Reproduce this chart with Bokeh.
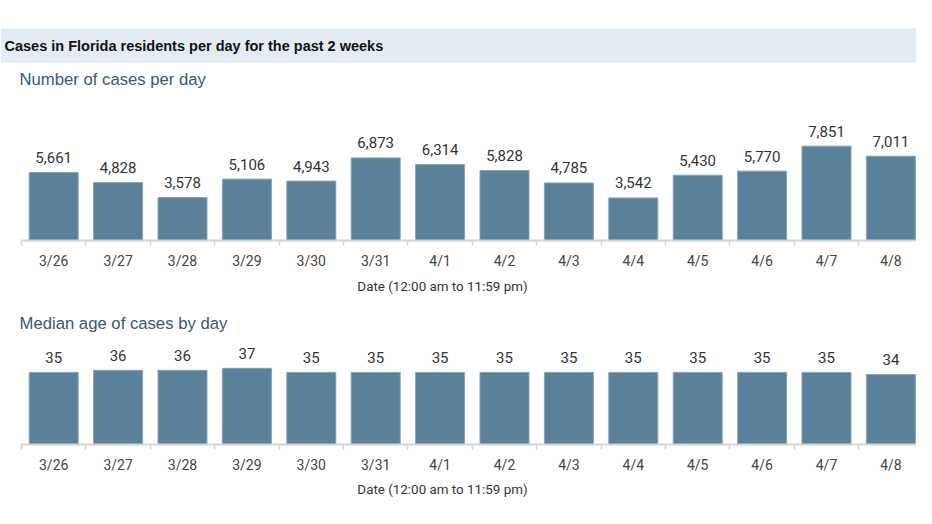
from bokeh.plotting import figure
from bokeh.models import Range1d, FixedTicker, ColumnDataSource
from bokeh.layouts import column
from bokeh.core.properties import value
from bokeh.embed import file_html
from bokeh.resources import INLINE

# ---- data ----
dates = ["3/26", "3/27", "3/28", "3/29", "3/30", "3/31", "4/1",
         "4/2", "4/3", "4/4", "4/5", "4/6", "4/7", "4/8"]
cases = [5661, 4828, 3578, 5106, 4943, 6873, 6314, 5828, 4785, 3542,
         5430, 5770, 7851, 7011]
ages = [35, 36, 36, 37, 35, 35, 35, 35, 35, 35, 35, 35, 35, 34]

main_title = "Cases in Florida residents per day for the past 2 weeks"
sub1 = "Number of cases per day"
sub2 = "Median age of cases by day"
xlabel = "Date (12:00 am to 11:59 pm)"

W = 916
LEFT = 21      # pixel where the category axis starts
SLOT = 64.4    # pixel width of one category slot
BAR = "#5a8199"
BAR_LINE = "#86a3b5"
AXIS = "#d3d3d3"
SUB_COLOR = "#3a596b"
NUM_FONT = "Roboto"
HEAD_FONT = "Liberation Sans"


def text_fig(h):
    f = figure(width=W, height=h, x_range=Range1d(0, W), y_range=Range1d(0, h),
               x_axis_location=None, y_axis_location=None,
               min_border_left=0, min_border_right=0,
               min_border_top=0, min_border_bottom=0,
               toolbar_location=None, output_backend="svg",
               outline_line_color=None, background_fill_color="white",
               border_fill_color="white")
    f.xgrid.visible = False
    f.ygrid.visible = False
    return f


def subtitle(f, y, txt):
    f.text(x=[19], y=[y], text=[txt], text_font=value(HEAD_FONT),
           text_font_size="16.7px", text_color=SUB_COLOR,
           text_baseline="middle", text_align="left")


def date_label(f, y):
    f.text(x=[442], y=[y], text=[xlabel], text_font=value(NUM_FONT),
           text_font_size="13.4px", text_color="#333333",
           text_baseline="middle", text_align="center")


# header: band + title + first subtitle
head = text_fig(92)
head.quad(left=[0], right=[W], bottom=[30], top=[64], fill_color="#e2ecf2",
          line_color=None)
head.text(x=[4], y=[47], text=[main_title], text_font=value(HEAD_FONT),
          text_font_size="14.5px", text_font_style="bold", text_color="#111111",
          text_baseline="middle", text_align="left")
subtitle(head, 13, sub1)

mid = text_fig(64)
date_label(mid, 50)
subtitle(mid, 13, sub2)

foot = text_fig(32)
date_label(foot, 19)


def bar_fig(h, top_border, ymax, vals, labels):
    n = len(dates)
    xs = list(range(n))
    src = ColumnDataSource(dict(x=xs, v=vals, lab=labels))
    f = figure(width=W, height=h,
               x_range=Range1d(-0.5 - LEFT / SLOT, -0.5 + (W - LEFT) / SLOT),
               y_range=Range1d(0, ymax), y_axis_location=None,
               min_border_left=0, min_border_right=0,
               min_border_top=top_border, min_border_bottom=32,
               toolbar_location=None, output_backend="svg",
               outline_line_color=None, background_fill_color="white",
               border_fill_color="white")
    f.xgrid.visible = False
    f.ygrid.visible = False
    f.vbar(x="x", top="v", bottom=0, width=49 / SLOT, source=src,
           fill_color=BAR, line_color=BAR_LINE, line_width=1)
    f.text(x="x", y="v", text="lab", source=src, y_offset=-15,
           text_font=value(NUM_FONT), text_font_size="15px",
           text_color="#333333", text_align="center", text_baseline="middle")
    ax = f.xaxis[0]
    ax.bounds = (-0.5, n - 0.5)
    ax.ticker = FixedTicker(ticks=xs,
                            minor_ticks=[i - 0.5 for i in range(n + 1)])
    ax.major_label_overrides = {i: d for i, d in zip(xs, dates)}
    ax.major_tick_line_color = None
    ax.major_tick_out = 0
    ax.major_tick_in = 0
    ax.minor_tick_out = 5
    ax.minor_tick_in = 0
    ax.minor_tick_line_color = AXIS
    ax.minor_tick_line_width = 1.5
    ax.axis_line_color = AXIS
    ax.axis_line_width = 2
    ax.major_label_standoff = 7
    ax.major_label_text_font = NUM_FONT
    ax.major_label_text_font_size = "14px"
    ax.major_label_text_color = "#444444"
    return f


c1 = bar_fig(180, 8, 11650, cases, [f"{v:,}" for v in cases])
c2 = bar_fig(140, 4, 50.5, ages, [str(v) for v in ages])

p = column(head, c1, mid, c2, foot, spacing=0)

open("out.html", "w").write(file_html(p, INLINE))
